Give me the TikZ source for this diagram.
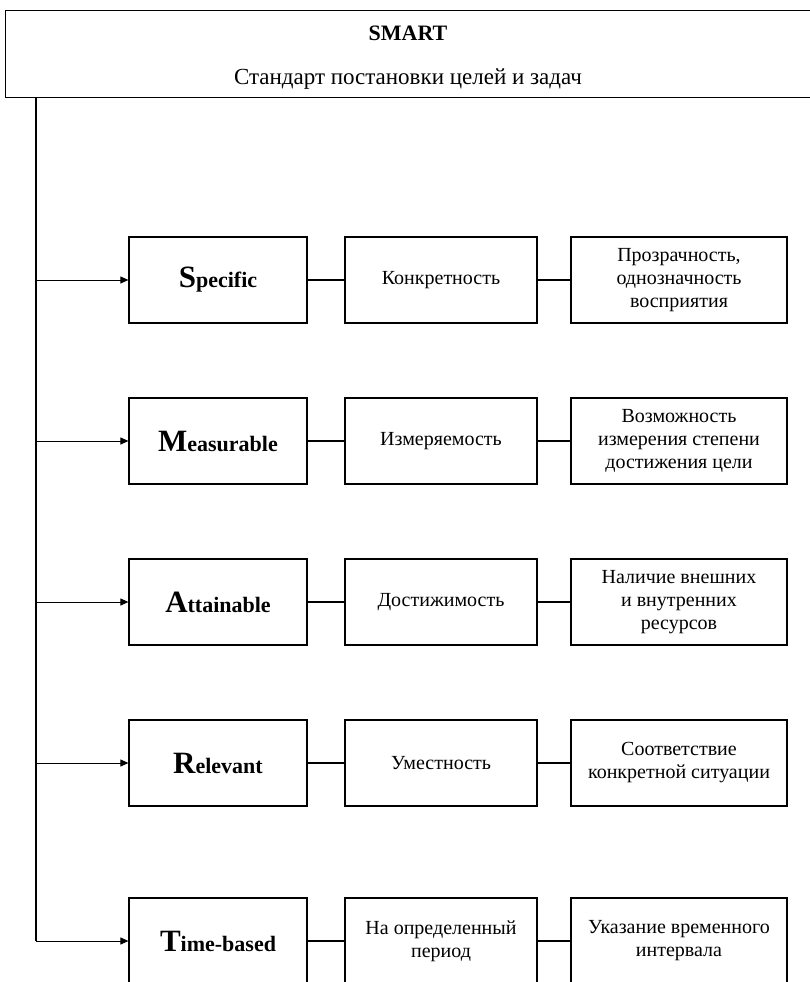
\documentclass[tikz,border=0pt]{standalone}
\usepackage{fontspec}
\setmainfont{Liberation Serif}
\usetikzlibrary{arrows.meta}
\tikzset{
	box/.style={draw, line width=1.2pt, minimum height=86pt, align=center, inner sep=2pt, font=\fontsize{20}{23}\selectfont},
	keybox/.style={box, minimum width=178pt},
	meanbox/.style={box, minimum width=192pt},
	notebox/.style={box, minimum width=216pt},
	link/.style={line width=2pt},
	trunk/.style={line width=2pt},
	feed/.style={line width=1pt, -{Triangle[length=8pt,width=7pt]}},
}
\newcommand{\keyword}[2]{{\bfseries\fontsize{31}{31}\selectfont #1}{\bfseries\fontsize{22}{22}\selectfont #2}}

\begin{document}
\begin{tikzpicture}[x=1pt, y=-1pt]
		%%%%% START %%%%%
		\useasboundingbox (0,0) rectangle (810,982);
		
		\node[draw, line width=1.3pt, anchor=north west, minimum width=810pt, minimum height=87pt, inner sep=0pt] (smart) at (5,10) {};
		\node[font=\bfseries\fontsize{22}{22}\selectfont] (title) at (408,33) {SMART};
		\node[font=\fontsize{23}{23}\selectfont] (subtitle) at (408,79) {Стандарт постановки целей и задач};
		
		\coordinate (top) at (36,97);
		
		\node[keybox] (spec) at (218,280) {\keyword{S}{pecific}};
		\node[meanbox] (specA) at (441,280) {Конкретность};
		\node[notebox] (specB) at (679,280) {Прозрачность,\\однозначность\\восприятия};
		\draw[link] (spec) -- (specA);
		\draw[link] (specA) -- (specB);
		\draw[feed] (spec.west -| top) -- (spec.west);
		
		\node[keybox] (meas) at (218,441) {\keyword{M}{easurable}};
		\node[meanbox] (measA) at (441,441) {Измеряемость};
		\node[notebox] (measB) at (679,441) {Возможность\\измерения степени\\достижения цели};
		\draw[link] (meas) -- (measA);
		\draw[link] (measA) -- (measB);
		\draw[feed] (meas.west -| top) -- (meas.west);
		
		\node[keybox] (att) at (218,602) {\keyword{A}{ttainable}};
		\node[meanbox] (attA) at (441,602) {Достижимость};
		\node[notebox] (attB) at (679,602) {Наличие внешних\\и внутренних\\ресурсов};
		\draw[link] (att) -- (attA);
		\draw[link] (attA) -- (attB);
		\draw[feed] (att.west -| top) -- (att.west);
		
		\node[keybox] (rel) at (218,763) {\keyword{R}{elevant}};
		\node[meanbox] (relA) at (441,763) {Уместность};
		\node[notebox] (relB) at (679,763) {Соответствие\\конкретной ситуации};
		\draw[link] (rel) -- (relA);
		\draw[link] (relA) -- (relB);
		\draw[feed] (rel.west -| top) -- (rel.west);
		
		\node[keybox] (time) at (218,941) {\keyword{T}{ime-based}};
		\node[meanbox] (timeA) at (441,941) {На определенный\\период};
		\node[notebox] (timeB) at (679,941) {Указание временного\\интервала};
		\draw[link] (time) -- (timeA);
		\draw[link] (timeA) -- (timeB);
		
		\coordinate (bottom) at (time.west -| top);
		\draw[trunk] (top) -- (bottom);
		\draw[feed] (bottom) -- (time.west);
		%%%%% END %%%%%
	\end{tikzpicture}
\end{document}
